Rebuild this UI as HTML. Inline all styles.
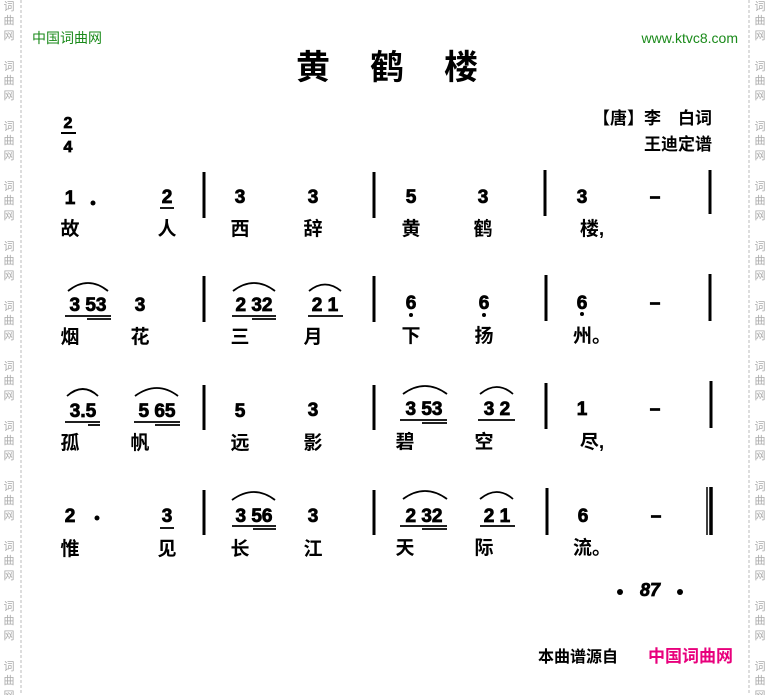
<!DOCTYPE html>
<html><head><meta charset="utf-8"><style>
html,body{margin:0;padding:0;background:#fff;}
svg{display:block;}
.wm{font-family:"Liberation Sans","Noto Sans CJK SC",sans-serif;font-size:11px;fill:#aaa;text-anchor:middle;}
.n{font-family:"Liberation Sans",sans-serif;font-weight:bold;font-size:19px;fill:#000;stroke:#000;stroke-width:0.8;text-anchor:middle;}
.l{font-family:"Liberation Sans","Noto Sans CJK SC",sans-serif;font-weight:bold;font-size:19px;fill:#000;text-anchor:middle;}
.ln{stroke:#000;fill:none;}
</style></head><body>
<svg width="770" height="695" viewBox="0 0 770 695" xmlns="http://www.w3.org/2000/svg">
<line x1="21" y1="0" x2="21" y2="695" stroke="#bbb" stroke-dasharray="3,2"/>
<line x1="749" y1="0" x2="749" y2="695" stroke="#bbb" stroke-dasharray="3,2"/>
<g class="wm">
<text x="9" y="10">词</text><text x="9" y="24">曲</text><text x="9" y="39">网</text>
<text x="9" y="70">词</text><text x="9" y="84">曲</text><text x="9" y="99">网</text>
<text x="9" y="130">词</text><text x="9" y="144">曲</text><text x="9" y="159">网</text>
<text x="9" y="190">词</text><text x="9" y="204">曲</text><text x="9" y="219">网</text>
<text x="9" y="250">词</text><text x="9" y="264">曲</text><text x="9" y="279">网</text>
<text x="9" y="310">词</text><text x="9" y="324">曲</text><text x="9" y="339">网</text>
<text x="9" y="370">词</text><text x="9" y="384">曲</text><text x="9" y="399">网</text>
<text x="9" y="430">词</text><text x="9" y="444">曲</text><text x="9" y="459">网</text>
<text x="9" y="490">词</text><text x="9" y="504">曲</text><text x="9" y="519">网</text>
<text x="9" y="550">词</text><text x="9" y="564">曲</text><text x="9" y="579">网</text>
<text x="9" y="610">词</text><text x="9" y="624">曲</text><text x="9" y="639">网</text>
<text x="9" y="670">词</text><text x="9" y="684">曲</text><text x="9" y="699">网</text>
<text x="760" y="10">词</text><text x="760" y="24">曲</text><text x="760" y="39">网</text>
<text x="760" y="70">词</text><text x="760" y="84">曲</text><text x="760" y="99">网</text>
<text x="760" y="130">词</text><text x="760" y="144">曲</text><text x="760" y="159">网</text>
<text x="760" y="190">词</text><text x="760" y="204">曲</text><text x="760" y="219">网</text>
<text x="760" y="250">词</text><text x="760" y="264">曲</text><text x="760" y="279">网</text>
<text x="760" y="310">词</text><text x="760" y="324">曲</text><text x="760" y="339">网</text>
<text x="760" y="370">词</text><text x="760" y="384">曲</text><text x="760" y="399">网</text>
<text x="760" y="430">词</text><text x="760" y="444">曲</text><text x="760" y="459">网</text>
<text x="760" y="490">词</text><text x="760" y="504">曲</text><text x="760" y="519">网</text>
<text x="760" y="550">词</text><text x="760" y="564">曲</text><text x="760" y="579">网</text>
<text x="760" y="610">词</text><text x="760" y="624">曲</text><text x="760" y="639">网</text>
<text x="760" y="670">词</text><text x="760" y="684">曲</text><text x="760" y="699">网</text>
</g>
<text x="32" y="43" style="font-family:'Liberation Sans','Noto Sans CJK SC',sans-serif;font-size:14px;fill:#1a8a1a">中国词曲网</text>
<text x="738" y="43" text-anchor="end" style="font-family:'Liberation Sans',sans-serif;font-size:14px;fill:#1a8a1a">www.ktvc8.com</text>
<text x="387" y="79" text-anchor="middle" style="font-family:'Liberation Sans','Noto Sans CJK SC',sans-serif;font-weight:bold;font-size:34px;letter-spacing:40px" dx="20">黄鹤楼</text>
<text x="68" y="128" class="n" style="font-size:16px">2</text>
<line x1="61" y1="133" x2="76" y2="133" class="ln" stroke-width="2"/>
<text x="68" y="152" class="n" style="font-size:16px">4</text>
<text x="712" y="124" text-anchor="end" style="font-family:'Liberation Sans','Noto Sans CJK SC',sans-serif;font-weight:bold;font-size:17px">【唐】李　白词</text>
<text x="712" y="150" text-anchor="end" style="font-family:'Liberation Sans','Noto Sans CJK SC',sans-serif;font-weight:bold;font-size:17px">王迪定谱</text>

<g class="ln" stroke-width="3">
<line x1="204" y1="172" x2="204" y2="218"/><line x1="374" y1="172" x2="374" y2="218"/><line x1="545" y1="170" x2="545" y2="216"/><line x1="710" y1="170" x2="710" y2="214"/>
<line x1="204" y1="276" x2="204" y2="322"/><line x1="374" y1="276" x2="374" y2="322"/><line x1="546" y1="275" x2="546" y2="321"/><line x1="710" y1="274" x2="710" y2="321"/>
<line x1="204" y1="385" x2="204" y2="430"/><line x1="374" y1="385" x2="374" y2="430"/><line x1="546" y1="383" x2="546" y2="429"/><line x1="711" y1="381" x2="711" y2="428"/>
<line x1="204" y1="490" x2="204" y2="535"/><line x1="374" y1="490" x2="374" y2="535"/><line x1="547" y1="488" x2="547" y2="535"/>
</g>
<line x1="707" y1="487" x2="707" y2="535" class="ln" stroke-width="1.5"/>
<line x1="711" y1="487" x2="711" y2="535" class="ln" stroke-width="3.5"/>

<g class="n">
<text x="70" y="204">1</text><text x="167" y="203">2</text><text x="240" y="203">3</text><text x="313" y="203">3</text><text x="411" y="203">5</text><text x="483" y="203">3</text><text x="582" y="203">3</text><text x="655" y="203">–</text>
<text x="88" y="311">3 53</text><text x="140" y="311">3</text><text x="254" y="311">2 32</text><text x="325" y="311">2 1</text><text x="411" y="309">6</text><text x="484" y="309">6</text><text x="582" y="309">6</text><text x="655" y="309">–</text>
<text x="83" y="417">3.5</text><text x="157" y="417">5 65</text><text x="240" y="417">5</text><text x="313" y="416">3</text><text x="424" y="415">3 53</text><text x="497" y="415">3 2</text><text x="582" y="415">1</text><text x="655" y="415">–</text>
<text x="70" y="522">2</text><text x="167" y="522">3</text><text x="254" y="522">3 56</text><text x="313" y="522">3</text><text x="424" y="522">2 32</text><text x="497" y="522">2 1</text><text x="583" y="522">6</text><text x="656" y="522">–</text>
</g>
<g fill="#000">
<circle cx="93" cy="203" r="2.5"/><circle cx="97" cy="518" r="2.5"/>
<circle cx="411" cy="315" r="2"/><circle cx="484" cy="315" r="2"/><circle cx="582" cy="314" r="2"/>
</g>
<g class="ln" stroke-width="1.8">
<line x1="160" y1="208" x2="174" y2="208"/><line x1="160" y1="528" x2="174" y2="528"/>
<line x1="65" y1="316" x2="111" y2="316"/><line x1="87" y1="319" x2="111" y2="319"/>
<line x1="232" y1="316" x2="276" y2="316"/><line x1="252" y1="319" x2="276" y2="319"/>
<line x1="308" y1="316" x2="343" y2="316"/>
<line x1="65" y1="422" x2="100" y2="422"/><line x1="88" y1="425" x2="100" y2="425"/>
<line x1="134" y1="422" x2="180" y2="422"/><line x1="155" y1="425" x2="180" y2="425"/>
<line x1="400" y1="420" x2="447" y2="420"/><line x1="422" y1="423" x2="447" y2="423"/>
<line x1="478" y1="420" x2="515" y2="420"/>
<line x1="232" y1="526" x2="276" y2="526"/><line x1="253" y1="529" x2="276" y2="529"/>
<line x1="400" y1="526" x2="447" y2="526"/><line x1="422" y1="529" x2="447" y2="529"/>
<line x1="480" y1="526" x2="515" y2="526"/>
<path d="M68 291 Q88 275 108 291"/><path d="M233 291 Q254 275 275 291"/><path d="M309 291 Q325 278 341 291"/>
<path d="M67 396 Q83 382 98 396"/><path d="M135 396 Q157 380 178 396"/><path d="M403 394 Q425 378 447 394"/><path d="M480 394 Q497 380 513 394"/>
<path d="M232 500 Q254 484 275 500"/><path d="M403 499 Q425 483 447 499"/><path d="M480 499 Q497 485 513 499"/>
</g>
<g class="l">
<text x="70" y="235">故</text><text x="167" y="235">人</text><text x="240" y="235">西</text><text x="313" y="235">辞</text><text x="411" y="235">黄</text><text x="483" y="235">鹤</text><text x="592" y="235">楼,</text>
<text x="70" y="343">烟</text><text x="140" y="343">花</text><text x="240" y="343">三</text><text x="313" y="343">月</text><text x="411" y="342">下</text><text x="484" y="342">扬</text><text x="592" y="342">州。</text>
<text x="70" y="449">孤</text><text x="140" y="449">帆</text><text x="240" y="449">远</text><text x="313" y="449">影</text><text x="405" y="448">碧</text><text x="484" y="448">空</text><text x="592" y="448">尽,</text>
<text x="70" y="555">惟</text><text x="167" y="555">见</text><text x="240" y="555">长</text><text x="313" y="555">江</text><text x="405" y="554">天</text><text x="484" y="554">际</text><text x="592" y="554">流。</text>
</g>
<circle cx="620" cy="592" r="3"/><circle cx="680" cy="592" r="3"/>
<text x="650" y="596" class="n" style="font-style:italic;font-size:18px">87</text>
<text x="538" y="662" style="font-family:'Liberation Sans','Noto Sans CJK SC',sans-serif;font-weight:bold;font-size:16px">本曲谱源自</text>
<text x="648" y="662" style="font-family:'Liberation Sans','Noto Sans CJK SC',sans-serif;font-weight:bold;font-size:17px;fill:#e8007c">中国词曲网</text>
</svg>
</body></html>
